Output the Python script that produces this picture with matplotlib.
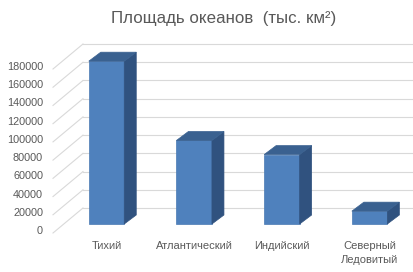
import numpy as np
import matplotlib
matplotlib.use('Agg')
import matplotlib.pyplot as plt
from matplotlib.patches import Polygon

plt.rcParams['font.family'] = ['Liberation Sans', 'DejaVu Sans']

# data (тыс. км2)
oceans = ['Тихий', 'Атлантический', 'Индийский', 'Северный\nЛедовитый']
area = [178700, 91700, 76200, 14100]
yticks = [0, 20000, 40000, 60000, 80000, 100000, 120000, 140000, 160000, 180000]

title = 'Площадь океанов  (тыс. км²)'
grey = '#595959'

# pixel -> data scales
W, H = 414, 272
px_x = 1 / 87.7            # category units per pixel
px_y = 180000 / 164.0      # value units per pixel

fig = plt.figure(figsize=(W / 100, H / 100), dpi=100)
ax = fig.add_axes([0, 0, 1, 1])
ax.set_xlim(-106.5 * px_x, (W - 106.5) * px_x)
ax.set_ylim(-48 * px_y, (H - 48) * px_y)
ax.axis('off')

# depth offsets (pixels) relative to the front of the bars
front_dy, back_dy = -9, 16
back_x = (83 - 106.5) * px_x
front_x = (53 - 106.5) * px_x

# walls / gridlines
for v in yticks:
    yf = v + front_dy * px_y
    yb = v + back_dy * px_y
    ax.plot([front_x, back_x], [yf, yb], color='#D9D9D9', lw=0.8, zorder=1)
    ax.plot([back_x, ax.get_xlim()[1]], [yb, yb], color='#D9D9D9', lw=0.8, zorder=1)
    ax.text(front_x - 10 * px_x, v - 7 * px_y, str(v), ha='right', va='center',
            fontsize=7.8, color=grey)

# bars with fake depth
bw = 35.5 * px_x
dx, dy = 12 * px_x, 9 * px_y
x = np.arange(len(oceans))
ax.bar(x, area, width=bw, color='#4F81BD', edgecolor='#4A7AB3', lw=0.5, zorder=3)
for xi, v in zip(x, area):
    l, r = xi - bw / 2, xi + bw / 2
    side = Polygon([(r, 0), (r + dx, dy), (r + dx, v + dy), (r, v)],
                   closed=True, fc='#30527F', ec='#30527F', lw=0.5, zorder=3)
    top = Polygon([(l, v), (r, v), (r + dx, v + dy), (l + dx, v + dy)],
                  closed=True, fc='#3A6190', ec='#3A6190', lw=0.5, zorder=3)
    ax.add_patch(side)
    ax.add_patch(top)

for xi, name in zip(x, oceans):
    ax.text(xi, -17 * px_y, name, ha='center', va='top', fontsize=8,
            color=grey, linespacing=1.55)

fig.text(224 / W, 1 - 18 / H, title, ha='center', va='center', fontsize=12.2, color=grey)

fig.savefig('out.png', dpi=100)
